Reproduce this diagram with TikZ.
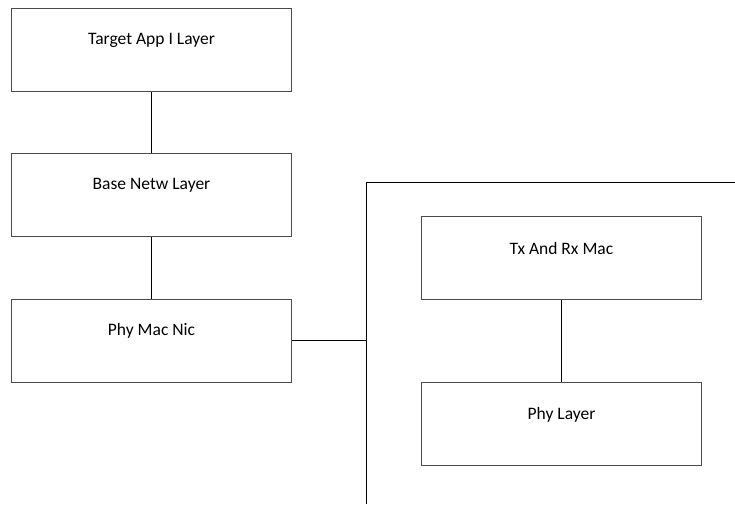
\documentclass[tikz,border=0pt]{standalone}
\usepackage{fontspec}
\setmainfont{Carlito}
\begin{document}
\begin{tikzpicture}[x=1pt,y=-1pt,
  box/.style={draw=black!70,line width=1pt,minimum width=280pt,minimum height=83pt,inner sep=0pt,anchor=north west},
  lbl/.style={font=\fontsize{17.5}{20}\selectfont,inner sep=0pt},
  conn/.style={draw=black,line width=1pt}]
\useasboundingbox (0,0) rectangle (735,504);
\node[box] (a) at (11,8) {};
\node[lbl] (at) at ([yshift=-32pt]a.north) {Target App I Layer};
\node[box] (b) at (11,153) {};
\node[lbl] (bt) at ([yshift=-32pt]b.north) {Base Netw Layer};
\node[box] (c) at (11,299) {};
\node[lbl] (ct) at ([yshift=-32pt]c.north) {Phy Mac Nic};
\node[box] (d) at (421,215.5) {};
\node[lbl] (dt) at ([yshift=-33pt]d.north) {Tx And Rx Mac};
\node[box] (e) at (421,381.5) {};
\node[lbl] (et) at ([yshift=-33pt]e.north) {Phy Layer};
\coordinate (ctr) at (735,182);
\coordinate (ctl) at (366,182);
\coordinate (cbl) at (366,504);
\coordinate (cj) at (366,340);
\draw[conn] (ctr) -- (ctl) -- (cbl);
\draw[conn] (a) -- (b);
\draw[conn] (b) -- (c);
\draw[conn] (c.east |- cj) -- (cj);
\draw[conn] (d) -- (e);
\end{tikzpicture}
\end{document}
